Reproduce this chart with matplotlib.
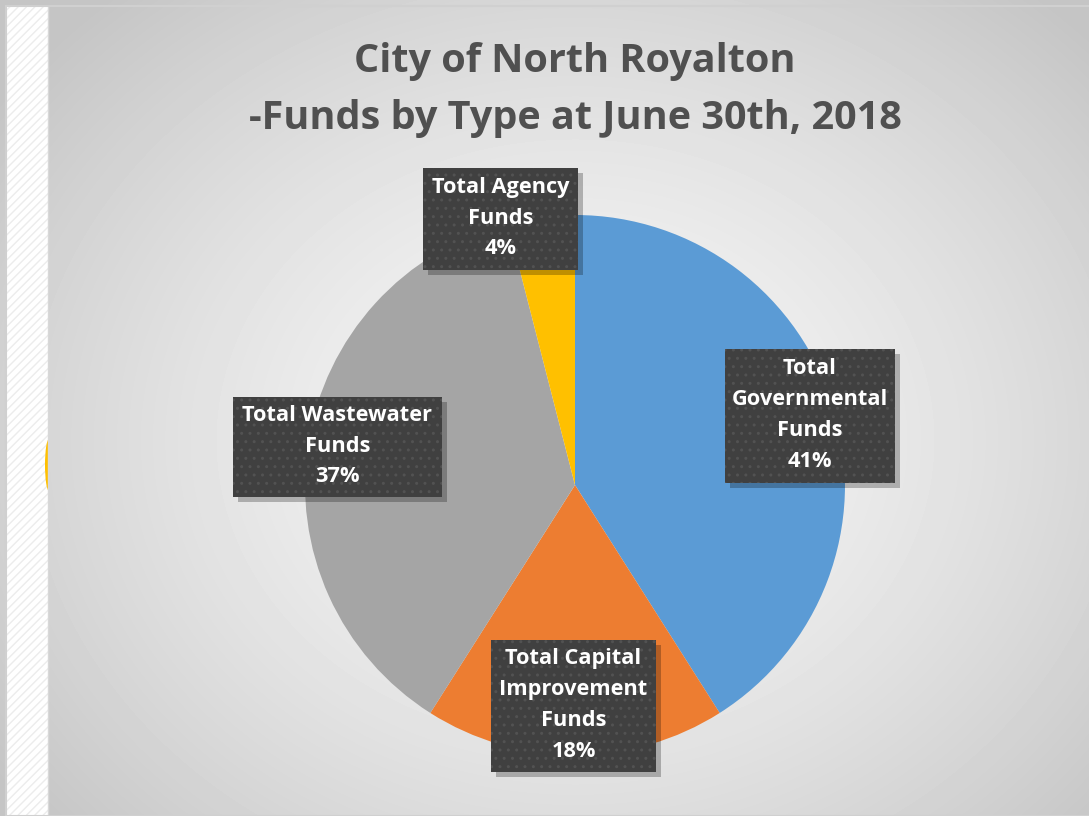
import numpy as np
import matplotlib.pyplot as plt
from matplotlib.patches import Rectangle, Ellipse

# data
names = ["Total\nGovernmental\nFunds", "Total Capital\nImprovement\nFunds",
         "Total Wastewater\nFunds", "Total Agency\nFunds"]
shares = [41, 18, 37, 4]
colors = ["#5b9bd5", "#ed7d31", "#a5a5a5", "#ffc000"]
# label box (left, top, width, height) in pixel coords of the picture
boxes = [(725, 349, 170, 134), (491, 640, 165, 132), (233, 397, 209, 100), (423, 168, 155, 102)]
title = "City of North Royalton\n-Funds by Type at June 30th, 2018"

W, H = 1089, 816
plt.rcParams['font.family'] = ['Open Sans', 'DejaVu Sans']
fig = plt.figure(figsize=(W / 100, H / 100), dpi=100)
ax = fig.add_axes([0, 0, 1, 1])

# radial grey background
yy, xx = np.mgrid[0:H, 0:W]
r = np.hypot((xx - 575) / 620.0, (yy - 440) / 520.0)
shade = np.clip(0.965 - 0.16 * r ** 1.5, 0.77, 0.97)
ax.imshow(shade, cmap='gray', vmin=0, vmax=1, extent=(0, W, 0, H), origin='upper', zorder=0)

# hatched strip on the left + border
ax.add_patch(Rectangle((6, 0), 42, H - 6, facecolor='white', edgecolor='#ececec', hatch='////', lw=0, zorder=1))
ax.add_patch(Rectangle((6, 0), W, H - 6, facecolor='none', edgecolor='#d0d0d0', lw=1.5, zorder=5))
ax.plot([48, 48], [0, H - 6], color='#d8d8d8', lw=1, zorder=2)
e = Ellipse((49, H - 465), 8, 52, facecolor='#ffc000', edgecolor='none', zorder=1.5)
ax.add_patch(e)
e.set_clip_path(Rectangle((0, 0), 48, H, transform=ax.transData))

# pie
ax.pie(shares, colors=colors, startangle=90, counterclock=False,
       center=(575, H - 485), radius=270, wedgeprops=dict(linewidth=0), frame=True)
ax.set_xlim(0, W)
ax.set_ylim(0, H)
ax.set_aspect('auto')
ax.axis('off')

# labels
for nm, v, (bx, by, bw, bh) in zip(names, shares, boxes):
    y0 = H - by - bh
    ax.add_patch(Rectangle((bx + 5, y0 - 5), bw, bh, facecolor='#000000', alpha=0.25, lw=0, zorder=6))
    ax.add_patch(Rectangle((bx, y0), bw, bh, facecolor='#404040', lw=0, zorder=7))
    ax.add_patch(Rectangle((bx, y0), bw, bh, facecolor='none', edgecolor='#525252', hatch='..', lw=0, zorder=7.5))
    ax.text(bx + bw / 2, y0 + bh / 2 + 1, "%s\n%d%%" % (nm, v), color='white', fontsize=15.7,
            fontweight='bold', ha='center', va='center', linespacing=1.62, zorder=8)

ax.text(575, H - 90, title, color='#505050', fontsize=28.5, fontweight='bold',
        ha='center', va='center', linespacing=1.57, zorder=8)

fig.savefig('out.png', dpi=100)
